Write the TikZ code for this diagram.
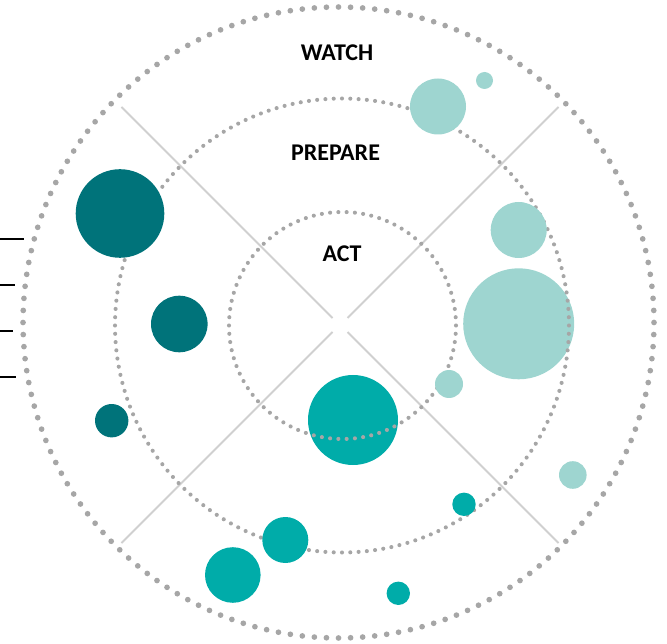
\documentclass[tikz,border=0pt]{standalone}
\usepackage{fontspec}
\setmainfont{Carlito}
\usetikzlibrary{calc}
\definecolor{darkteal}{HTML}{00737A}
\definecolor{midteal}{HTML}{00ACA9}
\definecolor{lightteal}{HTML}{9ED5D0}
\definecolor{dotgrey}{HTML}{A6A6A6}
\definecolor{linegrey}{HTML}{D0D0D0}
\begin{document}
\begin{tikzpicture}[x=1pt,y=-1pt,
  bubble/.style={circle,inner sep=0pt,outer sep=0pt,minimum size=#1},
  darkb/.style={bubble=#1,fill=darkteal},
  midb/.style={bubble=#1,fill=midteal},
  lightb/.style={bubble=#1,fill=lightteal},
  ringlabel/.style={font=\bfseries\fontsize{24}{28}\selectfont,text=black,inner sep=0pt},
  divider/.style={draw=linegrey,line width=2pt},
  tick/.style={draw=black,line width=2pt}]
\useasboundingbox (0,0) rectangle (667,644);
% centre of the quadrants
\coordinate (c) at (340,325);
% dividers
\foreach \name/\dx/\dy in {ul/-1/-1,ur/1/-1,ll/-1/1,lr/1/1}{
  \coordinate (\name a) at ($(c)+(7.5*\dx,7*\dy)$);
  \coordinate (\name b) at ($(c)+(218.5*\dx,218*\dy)$);
  \draw[divider] (\name a) -- (\name b);
}
% left ticks
\coordinate (t1a) at (0,239); \coordinate (t1b) at (24,239);
\coordinate (t2a) at (0,285); \coordinate (t2b) at (15,285);
\coordinate (t3a) at (0,331.5); \coordinate (t3b) at (13,331.5);
\coordinate (t4a) at (0,377); \coordinate (t4b) at (16,377);
\draw[tick] (t1a) -- (t1b);
\draw[tick] (t2a) -- (t2b);
\draw[tick] (t3a) -- (t3b);
\draw[tick] (t4a) -- (t4b);
% outer ring
\foreach \i in {1,...,164}{
  \fill[dotgrey] ($(338.5,322.5)+({(360/164)*\i}:315.5)$) circle (2.85);
}
% bubbles below the rings
\node[lightb=111] (b1) at (518.7,323.8) {};
\node[midb=90] (b2) at (353,420) {};
% middle ring
\foreach \i in {1,...,172}{
  \fill[dotgrey] ($(342,325.5)+({(360/172)*\i}:227)$) circle (2.05);
}
% inner ring
\foreach \i in {1,...,86}{
  \fill[dotgrey] ($(342.5,325.5)+({(360/86)*\i}:113.5)$) circle (2.05);
}
% other bubbles
\node[darkb=88.6] (b3) at (120,213.5) {};
\node[darkb=56.6] (b4) at (179.3,324) {};
\node[darkb=33.4] (b5) at (111.7,420.7) {};
\node[lightb=56] (b6) at (438,106.5) {};
\node[lightb=17] (b7) at (484.5,80.5) {};
\node[lightb=56] (b8) at (518.7,230) {};
\node[lightb=28] (b9) at (449,384) {};
\node[lightb=27.6] (b10) at (572.8,475) {};
\node[midb=46] (b11) at (285.3,540) {};
\node[midb=55.6] (b12) at (232.8,575) {};
\node[midb=23.4] (b13) at (464,504.3) {};
\node[midb=23.4] (b14) at (398.3,593.3) {};
% labels
\node[ringlabel] (watch) at (337,53) {WATCH};
\node[ringlabel] (prepare) at (335.5,153) {PREPARE};
\node[ringlabel] (act) at (342,254) {ACT};
\end{tikzpicture}
\end{document}
